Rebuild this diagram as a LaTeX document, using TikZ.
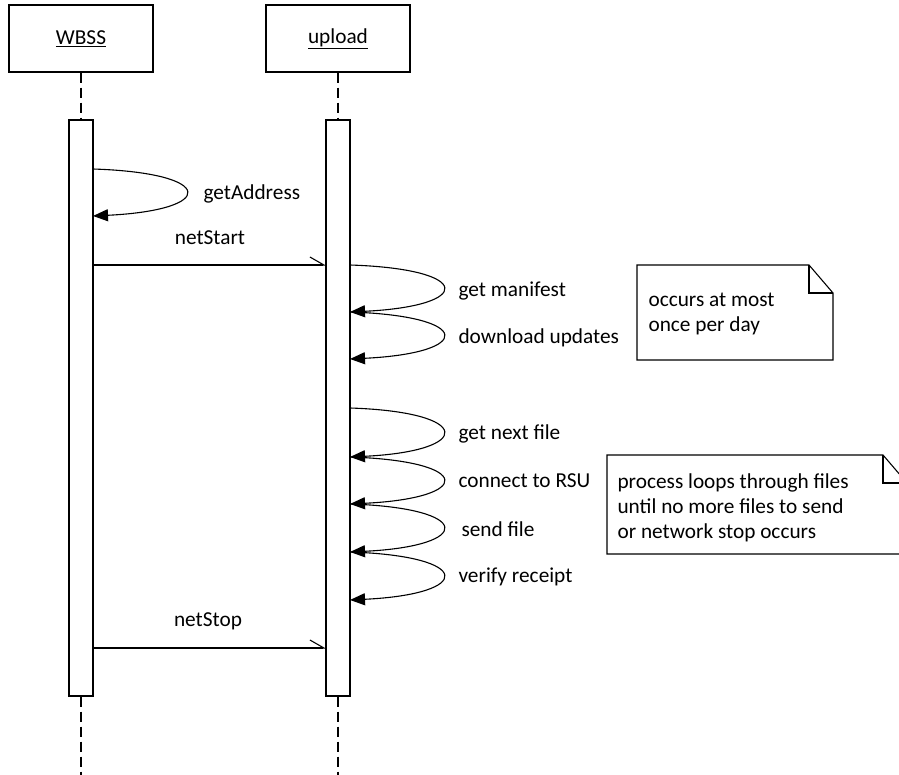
\documentclass[tikz,border=0pt]{standalone}
\usepackage{fontspec}
\setmainfont{Carlito}
\usetikzlibrary{arrows.meta}
\begin{document}
\begin{tikzpicture}[x=1pt,y=-1pt,
  line width=1.1pt,
  every node/.style={font=\fontsize{21.3}{25}\selectfont, inner sep=0pt},
  header/.style={draw, minimum width=144pt, minimum height=67pt},
  bar/.style={draw, fill=white, minimum width=24pt, minimum height=576pt},
  life/.style={dash pattern=on 10pt off 5pt},
  call/.style={-{Straight Barb[left,length=14pt,width=16pt]}},
  self/.style={-{Triangle[length=15pt,width=12pt]}},
  lbl/.style={anchor=west},
  notebox/.style={draw, fill=white, line join=miter},
]
\useasboundingbox (0,0) rectangle (899,775);
\clip (0,0) rectangle (899,775);

% lifeline headers
\node[header] (wbss) at (81,38.5) {\underline{WBSS}};
\node[header] (upl)  at (338,38.5) {\underline{upload}};

% activation bars
\node[bar] (wact) at (81,408) {};
\node[bar] (uact) at (338,408) {};

% dashed lifelines
\coordinate (wend) at (81,775);
\coordinate (uend) at (338,775);
\draw[life] (wbss.south) -- (wact.north);
\draw[life] (upl.south) -- (uact.north);
\draw[life] (wact.south) -- (wend);
\draw[life] (uact.south) -- (uend);

% message points on the bars
\coordinate (a0) at (93,169);  \coordinate (a1) at (93,216);
\coordinate (s0) at (93,265);  \coordinate (s1) at (326,265);
\coordinate (p0) at (350,265); \coordinate (p1) at (350,312); \coordinate (p2) at (350,359);
\coordinate (q0) at (350,408); \coordinate (q1) at (350,457); \coordinate (q2) at (350,504);
\coordinate (q3) at (350,552); \coordinate (q4) at (350,600);
\coordinate (t0) at (93,648);  \coordinate (t1) at (326,648);

% self calls
\draw[self] (a0) .. controls ++(124,4) and ++(124,-6) .. (a1);
\node[lbl] (la) at (203,194) {getAddress};

\draw[self] (p0) .. controls ++(124,4) and ++(124,-6) .. (p1);
\node[lbl] (lp1) at (458,291) {get manifest};
\draw[self] (p1) .. controls ++(124,4) and ++(124,-6) .. (p2);
\node[lbl] (lp2) at (458,338) {download updates};

\draw[self] (q0) .. controls ++(124,4) and ++(124,-6) .. (q1);
\node[lbl] (lq1) at (458,434) {get next file};
\draw[self] (q1) .. controls ++(124,4) and ++(124,-6) .. (q2);
\node[lbl] (lq2) at (458,481) {connect to RSU};
\draw[self] (q2) .. controls ++(124,4) and ++(124,-6) .. (q3);
\node[lbl] (lq3) at (461,529) {send file};
\draw[self] (q3) .. controls ++(124,4) and ++(124,-6) .. (q4);
\node[lbl] (lq4) at (458,577) {verify receipt};

% calls between lifelines
\draw[call] (s0) -- (s1);
\node (ls) at (210,238) {netStart};
\draw[call] (t0) -- (t1);
\node (lt) at (208,621) {netStop};

% notes
\draw[notebox] (637,265) -- (809,265) -- (833,293) -- (833,360) -- (637,360) -- cycle;
\draw (809,265) -- (809,293) -- (833,293);
\node[anchor=north west, align=left] (n1) at (648,292) {occurs at most\\once per day};

\draw[notebox] (607,455) -- (883,455) -- (907,483) -- (907,554) -- (607,554) -- cycle;
\draw (883,455) -- (883,483) -- (907,483);
\node[anchor=north west, align=left] (n2) at (617,473) {process loops through files\\until no more files to send\\or network stop occurs};
\end{tikzpicture}
\end{document}
